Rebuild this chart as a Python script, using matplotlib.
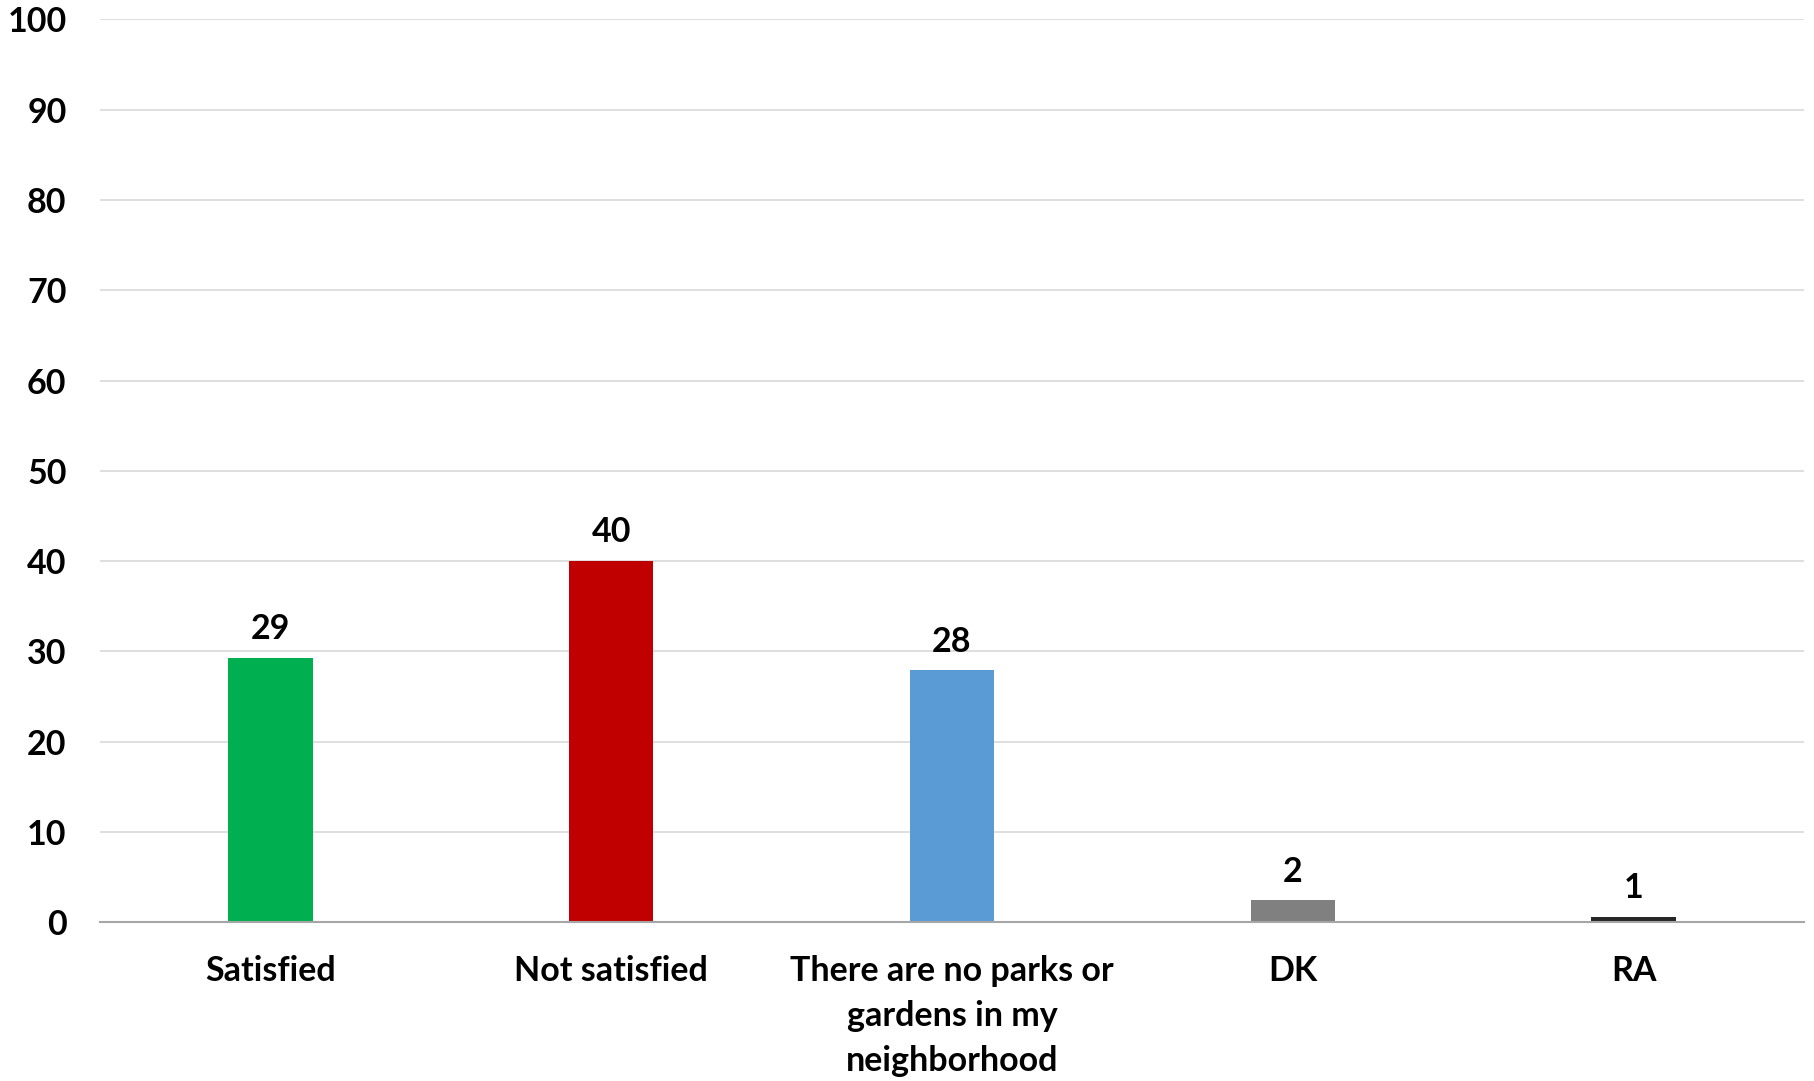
import numpy as np
import matplotlib.pyplot as plt

categories = ["Satisfied", "Not satisfied",
              "There are no parks or\ngardens in my\nneighborhood", "DK", "RA"]
values = [29.3, 40.0, 27.9, 2.4, 0.6]
colors = ["#00B050", "#C00000", "#5B9BD5", "#808080", "#262626"]
yticks = [0, 10, 20, 30, 40, 50, 60, 70, 80, 90, 100]

plt.rcParams['font.family'] = ['Lato', 'DejaVu Sans']
plt.rcParams['font.weight'] = 'bold'

fig = plt.figure(figsize=(18.14, 10.81), dpi=100)
ax = fig.add_axes([0.0551, 0.147, 0.9394, 0.835])

x = np.arange(len(categories))
bars = ax.bar(x, values, width=0.248, color=colors, zorder=2)

for xi, v in zip(x, values):
    ax.text(xi, v + 1.4, f"{v:.0f}", ha="center", va="bottom",
            fontsize=24.5, fontweight="bold")

ax.set_xlim(-0.5, len(categories) - 0.5)
ax.set_ylim(0, 100)
ax.set_yticks(yticks)
ax.set_xticks(x)
ax.set_xticklabels(categories, fontsize=24.5, fontweight="bold", linespacing=1.5)
ax.tick_params(axis="y", labelsize=24.5, length=0, pad=24)
ax.tick_params(axis="x", length=0, pad=24)

ax.grid(axis="y", color="#d9d9d9", linewidth=1.2, zorder=0)
for s in ["top", "right", "left"]:
    ax.spines[s].set_visible(False)
ax.spines["bottom"].set_color("#a6a6a6")
ax.spines["bottom"].set_linewidth(1.5)
ax.spines["bottom"].set_zorder(3)

fig.savefig("out.png", dpi=100)
